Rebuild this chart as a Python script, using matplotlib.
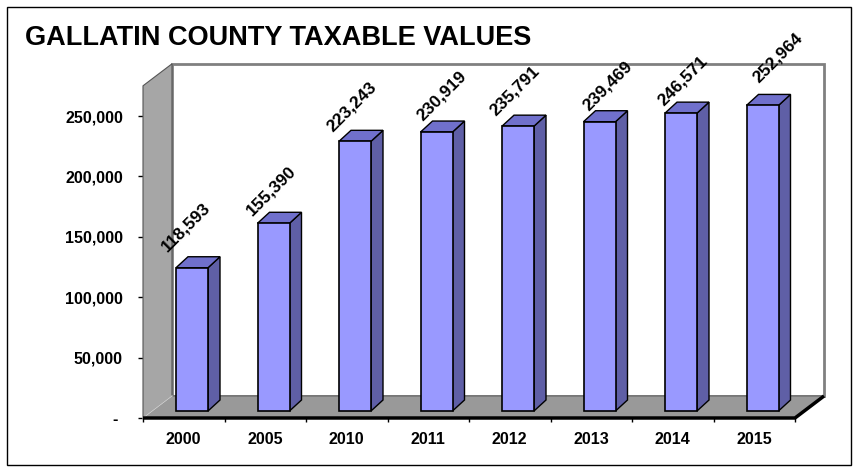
import matplotlib
matplotlib.use('Agg')
import matplotlib.pyplot as plt
from matplotlib.patches import Polygon, Rectangle

plt.rcParams['font.family'] = ['Liberation Sans', 'DejaVu Sans']

# datos
years = ['2000', '2005', '2010', '2011', '2012', '2013', '2014', '2015']
values = [118593, 155390, 223243, 230919, 235791, 239469, 246571, 252964]
y_ticks = [0, 50000, 100000, 150000, 200000, 250000]
y_tick_labels = ['- ', '50,000', '100,000', '150,000', '200,000', '250,000']
title = 'GALLATIN COUNTY TAXABLE VALUES'

# desplazamiento de cada etiqueta (px, derecha / arriba)
label_nudge_px = [(-9, 16), (-5, 7), (-6, 9), (2, 11), (-6, 10), (5, 10), (-1, 7), (12, 22)]

W, H = 858, 472
fig = plt.figure(figsize=(W / 100, H / 100), dpi=100)

y_max = 275000
px_per_k = 1.208
ax = fig.add_axes([143 / W, 54 / H, 652 / W, y_max / 1000 * px_per_k / H])
ax.set_xlim(-0.5, 7.5)
ax.set_ylim(0, y_max)

# conversión de pixeles a unidades de datos
px_x = 8 / 652
px_y = 1000 / px_per_k

n = len(years)
DX, DY = 29 * px_x, 22 * px_y      # profundidad de paredes
bdx, bdy = 12 * px_x, 11 * px_y    # profundidad de barras
bw = 32 * px_x
b_off_x, b_off_y = 33 * px_x, 7 * px_y

# pared del fondo
ax.add_patch(Polygon([(-0.5 + DX, DY), (n - 0.5 + DX, DY), (n - 0.5 + DX, y_max + DY),
                      (-0.5 + DX, y_max + DY)], closed=True, fc='white', ec='#808080',
                     lw=2, clip_on=False, zorder=1))
# piso
ax.add_patch(Polygon([(-0.5, 0), (n - 0.5, 0), (n - 0.5 + DX, DY), (-0.5 + DX, DY)],
                     closed=True, fc='#999999', ec='#666666', lw=0.8, clip_on=False, zorder=2))
ax.plot([-0.5, n - 0.5, n - 0.5 + DX], [0, 0, DY], color='black', lw=2.5,
        clip_on=False, zorder=3, solid_capstyle='butt')
# pared izquierda
ax.add_patch(Polygon([(-0.5, 0), (-0.5, y_max), (-0.5 + DX, y_max + DY), (-0.5 + DX, DY)],
                     closed=True, fc='#a6a6a6', ec='#555555', lw=0.8, clip_on=False, zorder=2))
ax.plot([-0.5, -0.5 + DX], [0, DY], color='#c8c8c8', lw=1, clip_on=False, zorder=2)

# barras
for i, v in enumerate(values):
    x0 = i - 0.5 + b_off_x
    y0 = b_off_y
    top = y0 + v
    ax.add_patch(Polygon([(x0 + bw, y0), (x0 + bw + bdx, y0 + bdy), (x0 + bw + bdx, top + bdy),
                          (x0 + bw, top)], closed=True, fc='#5f5fa6', ec='black', lw=1,
                         clip_on=False, zorder=4))
    ax.add_patch(Polygon([(x0, top), (x0 + bw, top), (x0 + bw + bdx, top + bdy), (x0 + bdx, top + bdy)],
                         closed=True, fc='#7070cc', ec='black', lw=1, clip_on=False, zorder=4))
    ax.add_patch(Rectangle((x0, y0), bw, v, fc='#9999ff', ec='black', lw=1.2,
                           clip_on=False, zorder=5))
    nx, ny = label_nudge_px[i]
    ax.text(x0 + nx * px_x, top + ny * px_y, f'{v:,}', rotation=45, rotation_mode='anchor',
            ha='left', va='baseline', fontsize=12.5, fontweight='bold', zorder=6)

for s in ax.spines.values():
    s.set_visible(False)
ax.set_yticks(y_ticks)
ax.set_yticklabels(y_tick_labels, fontsize=11.5, fontweight='bold')
ax.tick_params(axis='y', length=3.6, width=1, pad=10.8)
ax.set_xticks(range(n))
ax.set_xticklabels(years, fontsize=11.5, fontweight='bold')
ax.set_xticks([k - 0.5 for k in range(n + 1)], minor=True)
ax.tick_params(axis='x', which='major', length=0, pad=10.2)
ax.tick_params(axis='x', which='minor', length=3, width=1)
ax.patch.set_visible(False)

fig.text(25 / W, 1 - 45 / H, title, fontsize=19.5, fontweight='bold', va='baseline', ha='left')
fig.add_artist(Rectangle((7 / W, 7 / H), (851 - 7) / W, (465 - 7) / H, transform=fig.transFigure,
                         fill=False, ec='black', lw=1))

fig.savefig('out.png', dpi=100)
